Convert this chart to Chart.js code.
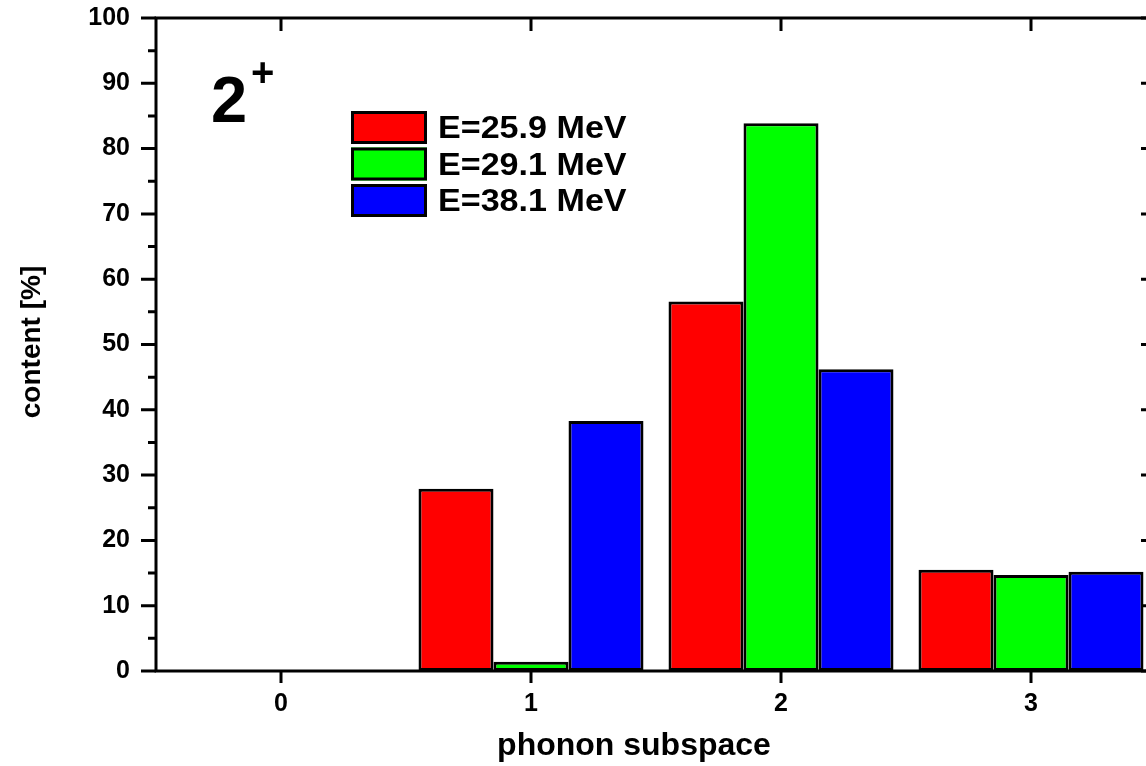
<!DOCTYPE html>
<html>
<head>
<meta charset="utf-8">
<script src="https://cdn.jsdelivr.net/npm/chart.js@4.4.1/dist/chart.umd.min.js"></script>
<style>
html,body{margin:0;padding:0;background:#fff;overflow:hidden;}
#wrap{position:relative;width:1166px;height:766px;}
</style>
</head>
<body>
<div id="wrap"><canvas id="c" width="1166" height="766"></canvas></div>
<script>
const categories = ['0', '1', '2', '3'];
const seriesLabels = ['E=25.9 MeV', 'E=29.1 MeV', 'E=38.1 MeV'];
const series259 = [null, 27.9, 56.6, 15.5];
const series291 = [null, 1.4, 83.9, 14.7];
const series381 = [null, 38.3, 46.2, 15.2];
const yTicks = [0, 10, 20, 30, 40, 50, 60, 70, 80, 90, 100];
const colors = ['#ff0000', '#00ff00', '#0000ff'];

const FONT = '"Liberation Sans", Arial, sans-serif';

const decor = {
  id: 'decor',
  afterDatasetsDraw(chart) {
    const ctx = chart.ctx;
    const a = chart.chartArea;
    const xs = chart.scales.x, ys = chart.scales.y;
    ctx.save();
    ctx.strokeStyle = '#000';
    ctx.lineWidth = 3;
    ctx.lineCap = 'butt';
    ctx.strokeRect(a.left, a.top, a.right - a.left, a.bottom - a.top);
    for (let v = 0; v <= 100; v += 5) {
      const y = ys.getPixelForValue(v);
      const major = v % 10 === 0;
      const L = major ? 15 : 8;
      ctx.beginPath();
      ctx.moveTo(a.left - L, y); ctx.lineTo(a.left, y);
      ctx.moveTo(a.right, y); ctx.lineTo(a.right - L, y);
      ctx.stroke();
    }
    categories.forEach((c, i) => {
      const x = xs.getPixelForValue(i);
      ctx.beginPath();
      ctx.moveTo(x, a.bottom); ctx.lineTo(x, a.bottom + 12);
      ctx.moveTo(x, a.top); ctx.lineTo(x, a.top + 13);
      ctx.stroke();
    });
    // legend
    const lx = 351, ly0 = 111, bw = 76, bh = 33, gap = 36.5;
    ctx.font = 'bold 31px ' + FONT;
    ctx.textBaseline = 'middle';
    ctx.textAlign = 'left';
    chart.data.datasets.forEach((ds, i) => {
      const y = ly0 + i * gap;
      ctx.fillStyle = ds.backgroundColor;
      ctx.fillRect(lx, y, bw, bh);
      ctx.lineWidth = 3;
      ctx.strokeRect(lx + 1.5, y + 1.5, bw - 3, bh - 3);
      ctx.fillStyle = '#000';
      ctx.save();
      ctx.translate(438, y + bh / 2 + 2);
      ctx.scale(1.1, 1);
      ctx.fillText(ds.label, 0, 0);
      ctx.restore();
    });
    // state label 2+
    ctx.font = 'bold 65px ' + FONT;
    ctx.textBaseline = 'alphabetic';
    ctx.fillText('2', 211, 122);
    ctx.font = 'bold 40px ' + FONT;
    ctx.fillText('+', 251, 86);
    // axis titles
    ctx.font = 'bold 32px ' + FONT;
    ctx.textAlign = 'center';
    ctx.textBaseline = 'middle';
    ctx.fillText('phonon subspace', 634, 746);
    ctx.save();
    ctx.translate(32, 342);
    ctx.rotate(-Math.PI / 2);
    ctx.font = 'bold 28px ' + FONT;
    ctx.fillText('content [%]', 0, 0);
    ctx.restore();
    ctx.restore();
  }
};

new Chart(document.getElementById('c'), {
  type: 'bar',
  data: {
    labels: categories,
    datasets: [
      { label: seriesLabels[0], data: series259, backgroundColor: colors[0] },
      { label: seriesLabels[1], data: series291, backgroundColor: colors[1] },
      { label: seriesLabels[2], data: series381, backgroundColor: colors[2] }
    ].map(d => Object.assign(d, { borderColor: '#000', borderWidth: 3, borderSkipped: false, categoryPercentage: 0.9, barPercentage: 1.0 }))
  },
  options: {
    responsive: false,
    animation: false,
    devicePixelRatio: 1,
    layout: { padding: { left: 0, right: 10, top: 18, bottom: 0 } },
    plugins: { legend: { display: false }, tooltip: { enabled: false } },
    scales: {
      x: {
        offset: true,
        grid: { display: false, drawTicks: false },
        border: { display: false },
        ticks: { color: '#000', font: { family: FONT, size: 25, weight: 'bold' }, padding: 18 },
        afterFit(s) { s.height = 95; s.paddingLeft = 0; s.paddingRight = 0; }
      },
      y: {
        min: 0, max: 100,
        afterBuildTicks(s) { s.ticks = yTicks.map(v => ({ value: v })); },
        grid: { display: false, drawTicks: false },
        border: { display: false },
        ticks: { color: '#000', font: { family: FONT, size: 25, weight: 'bold' }, padding: 26 },
        afterFit(s) { s.width = 156; s.paddingTop = 0; s.paddingBottom = 0; }
      }
    }
  },
  plugins: [decor]
});
</script>
</body>
</html>
